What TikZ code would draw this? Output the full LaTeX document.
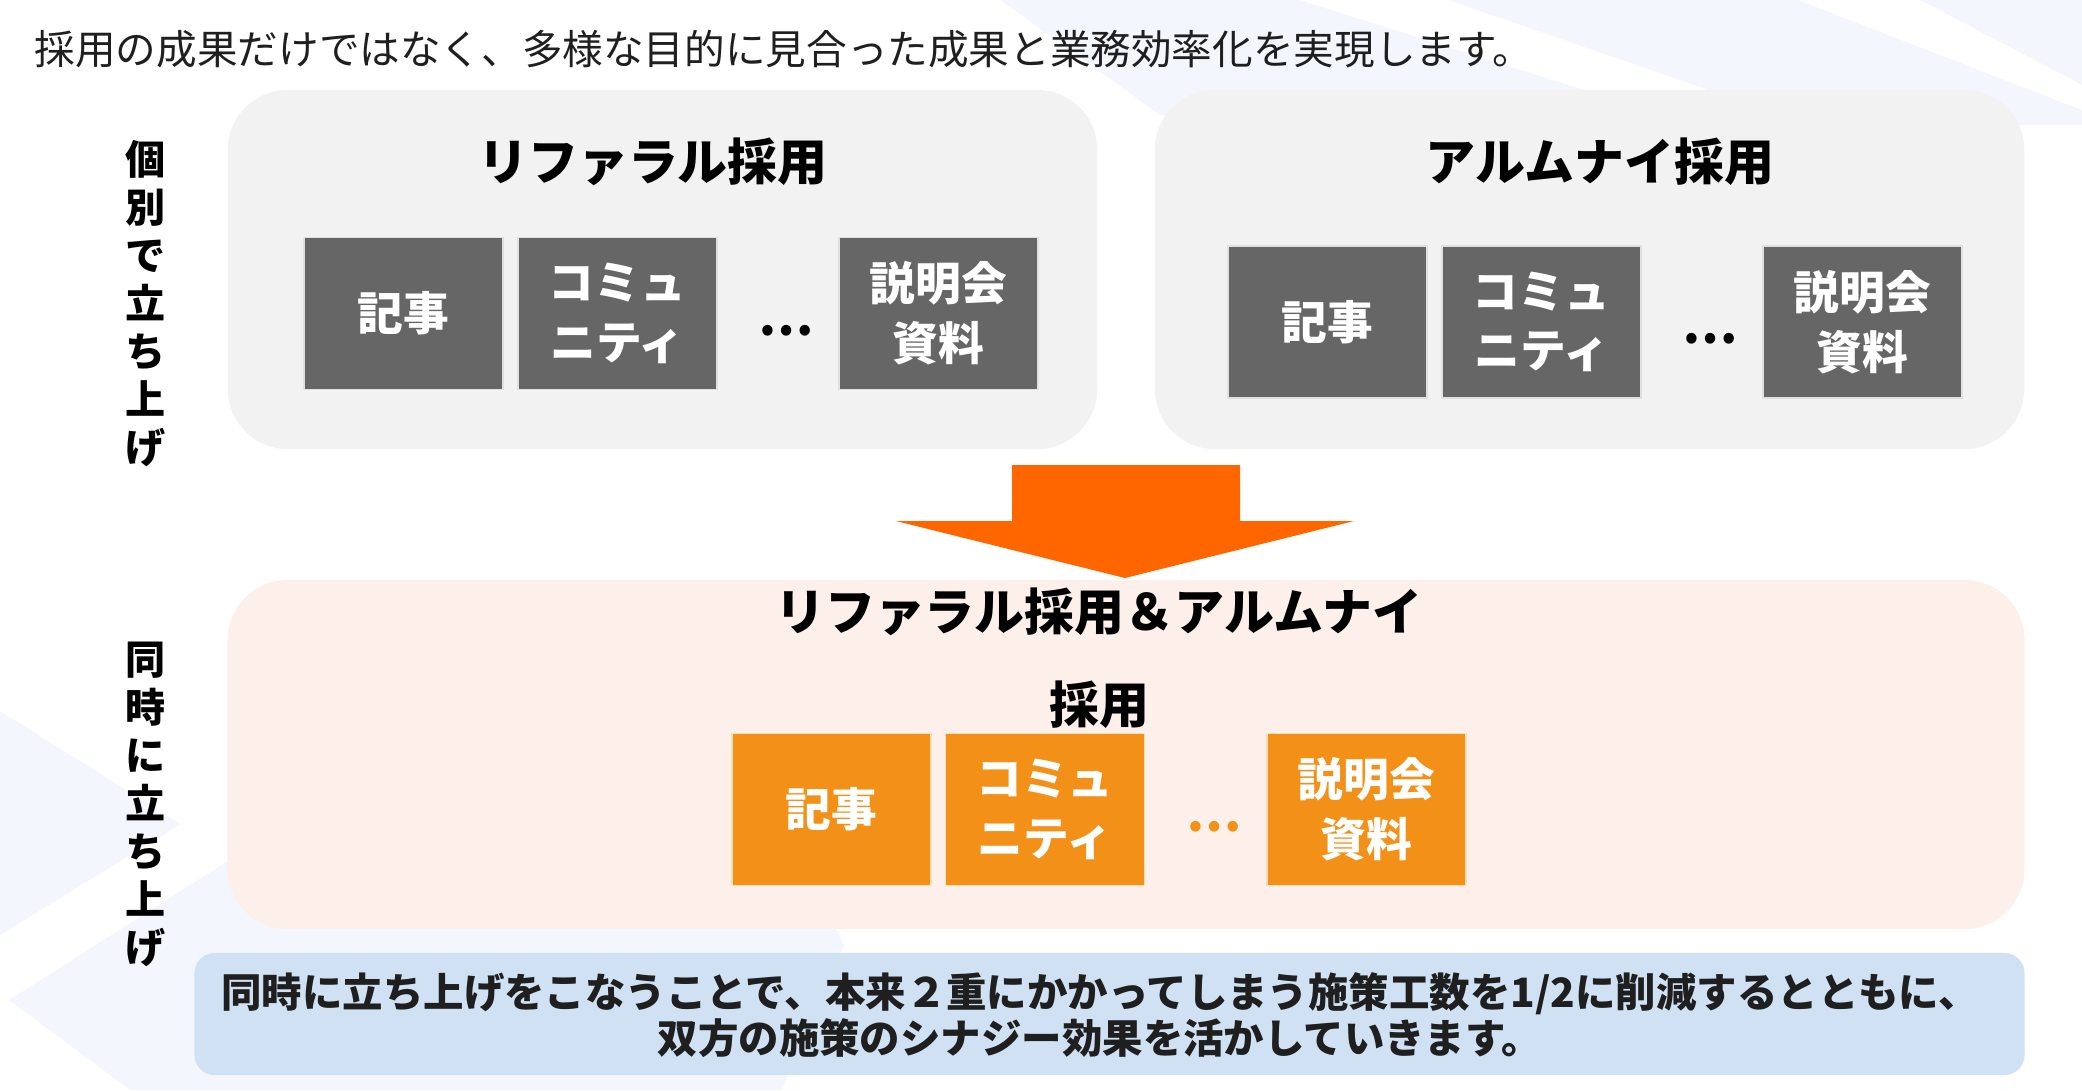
\documentclass[tikz,border=0pt]{standalone}
\usepackage{fontspec}
\setmainfont{Noto Sans CJK JP}

\definecolor{bgstripe}{HTML}{F3F7FD}
\definecolor{panelgray}{HTML}{F2F2F2}
\definecolor{tilegray}{HTML}{666666}
\definecolor{tileorange}{HTML}{F29018}
\definecolor{panelpink}{HTML}{FDF0EB}
\definecolor{noteblue}{HTML}{D0E1F3}
\definecolor{arroworange}{HTML}{FF6600}
\definecolor{inkdark}{HTML}{1F1F1F}

\begin{document}
\begin{tikzpicture}[x=0.01cm,y=-0.01cm,
	panel/.style={fill=panelgray,rounded corners=0.6cm,inner sep=0,minimum width=8.69cm,minimum height=3.59cm},
	paneltitle/.style={inner sep=0,font=\fontsize{14.2}{17}\selectfont\bfseries,text=black},
	tile/.style={fill=tilegray,draw=white!80!tilegray,line width=0.4pt,inner sep=0,minimum width=1.99cm,minimum height=1.52cm,text=white,align=center,font=\fontsize{13}{17}\selectfont\bfseries},
	orangetile/.style={tile,fill=tileorange,draw=white!70!tileorange},
	dots/.style={inner sep=0,font=\fontsize{14}{17}\selectfont\bfseries},
	sidelabel/.style={inner sep=0,align=center,text=black,font=\fontsize{11.4}{13.65}\selectfont\bfseries}]
	\useasboundingbox (0,0) rectangle (2082,1090);
	\fill[bgstripe] (1000,0) -- (1300,0) -- (1600,95) -- (1160,115) -- cycle;
	\fill[bgstripe] (1448,0) -- (1798,0) -- (2082,110) -- (2082,125) -- (1810,125) -- cycle;
	\fill[bgstripe] (1920,0) -- (2082,0) -- (2082,85) -- cycle;
	\fill[bgstripe] (0,711) -- (181,824) -- (0,935) -- cycle;
	\fill[bgstripe] (9,1000) -- (670,580) -- (844,945) -- (782,1090) -- (130,1090) -- cycle;

	\node[anchor=west,inner sep=0,text=inkdark,font=\fontsize{11.55}{14}\selectfont] (lead) at (34,49) {採用の成果だけではなく、多様な目的に見合った成果と業務効率化を実現します。};

	\node[sidelabel] (solo) at (146,304) {個\\別\\で\\立\\ち\\上\\げ};
	\node[sidelabel] (joint) at (146,804) {同\\時\\に\\立\\ち\\上\\げ};

	\node[panel] (referral) at (662.5,269.5) {};
	\node[panel] (alumni) at (1589.5,269.5) {};
	\node[paneltitle] (referraltitle) at (653,162) {リファラル採用};
	\node[paneltitle] (alumnititle) at (1600,162) {アルムナイ採用};

	\node[tile] (r1) at (403.5,313.5) {記事};
	\node[tile] (r2) at (617.5,313.5) {コミュ\\ニティ};
	\node[dots] (rdots) at (786,331) {…};
	\node[tile] (r3) at (938.5,313.5) {説明会\\資料};

	\node[tile] (a1) at (1327.5,322) {記事};
	\node[tile] (a2) at (1541.5,322) {コミュ\\ニティ};
	\node[dots] (adots) at (1710,339) {…};
	\node[tile] (a3) at (1862.5,322) {説明会\\資料};

	\fill[arroworange] (1012,465) -- (1240,465) -- (1240,521) -- (1354,521) -- (1125,578) -- (896,521) -- (1012,521) -- cycle;

	\node[fill=panelpink,rounded corners=0.6cm,inner sep=0,minimum width=17.96cm,minimum height=3.49cm] (merged) at (1126,754.5) {};
	\node[paneltitle,align=center,font=\fontsize{14.2}{26.5}\selectfont\bfseries] (mergedtitle) at (1099,658.5) {リファラル採用＆アルムナイ\\採用};

	\node[orangetile] (m1) at (831.5,809.5) {記事};
	\node[orangetile] (m2) at (1045,809.5) {コミュ\\ニティ};
	\node[dots,text=tileorange] (mdots) at (1214,827) {…};
	\node[orangetile] (m3) at (1366.5,809.5) {説明会\\資料};

	\node[fill=noteblue,rounded corners=0.2cm,inner sep=0,minimum width=18.29cm,minimum height=1.22cm] (note) at (1109.5,1014) {};
	\node[align=center,inner sep=0,text=inkdark,font=\fontsize{11.5}{13}\selectfont\bfseries] (notetext) at (1100,1015) {同時に立ち上げをこなうことで、本来２重にかかってしまう施策工数を1/2に削減するとともに、\\双方の施策のシナジー効果を活かしていきます。};
\end{tikzpicture}
\end{document}
